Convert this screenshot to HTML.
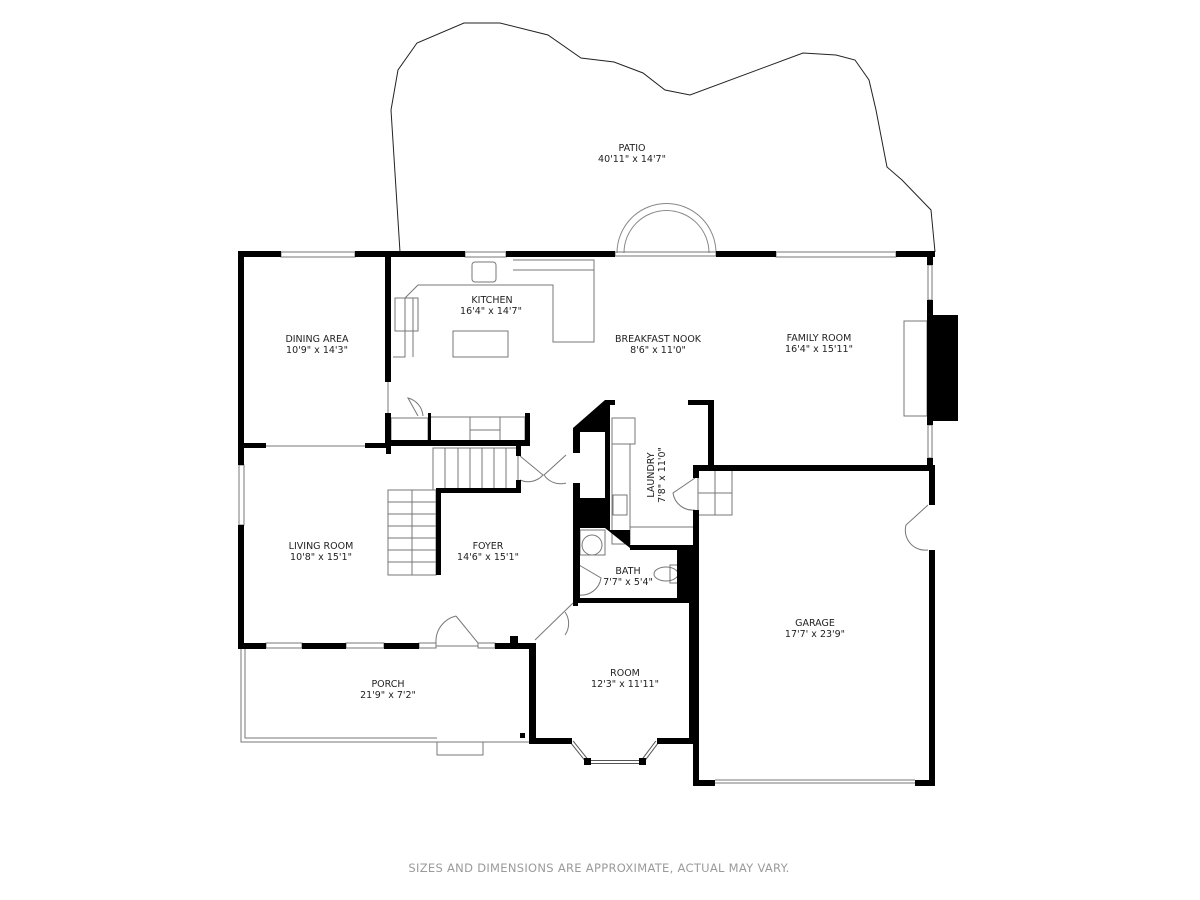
<!DOCTYPE html>
<html><head><meta charset="utf-8"><style>
html,body{margin:0;padding:0;background:#fff;}
svg{display:block;}
text{font-family:"DejaVu Sans","Liberation Sans",sans-serif;font-size:9.5px;fill:#222;text-anchor:middle;}
</style></head><body>
<svg width="1200" height="900" viewBox="0 0 1200 900" xmlns="http://www.w3.org/2000/svg">
<rect width="1200" height="900" fill="#fff"/>
<path d="M400,252 L391,110 L398,70 L417,43 L464,23 L500,23 L548,35 L581,58 L614,62 L643,73 L665,90 L690,95 L803,53 L836,55 L855,60 L869,80 L876,110 L887,167 L902,180 L931,210 L935,252" fill="none" stroke="#222" stroke-width="1"/>
<path d="M617,253 A49,49 0 0 1 716,253" fill="none" stroke="#888" stroke-width="1"/>
<path d="M624,253 A42,42 0 0 1 709,253" fill="none" stroke="#888" stroke-width="1"/>
<g fill="none" stroke="#777" stroke-width="1">
<rect x="281" y="252" width="74" height="5"/><rect x="465" y="252" width="41" height="5"/><rect x="776" y="252" width="120" height="5"/>
<rect x="615" y="252" width="101" height="4"/>
<rect x="239" y="465" width="5" height="60"/>
<rect x="928" y="265" width="4" height="35"/><rect x="928" y="425" width="4" height="33"/>
<rect x="266" y="643" width="36" height="5"/><rect x="346" y="643" width="38" height="5"/><rect x="419" y="643" width="17" height="5"/><rect x="478" y="643" width="17" height="5"/>
<line x1="436" y1="646" x2="478" y2="646"/>
<line x1="266" y1="446" x2="365" y2="446"/>
<line x1="388" y1="382" x2="388" y2="415"/>
<line x1="715" y1="783" x2="915" y2="783"/><line x1="715" y1="780" x2="915" y2="780"/>
<path d="M241,649 V742 H530"/><path d="M245,649 V738 H437"/>
<rect x="437" y="742" width="46" height="13"/>
<rect x="904" y="321" width="23" height="95" fill="#fff"/>
<path d="M393,357 H405 V298 L418,285 H553 V342 H594 V260 H513"/>
<path d="M413,357 V298"/>
<rect x="453" y="331" width="55" height="26"/>
<rect x="472" y="262" width="24" height="20" rx="3"/>
<rect x="395" y="298" width="23" height="33"/>
<line x1="513" y1="270" x2="594" y2="270"/>
<rect x="430" y="417" width="95" height="24"/>
<line x1="470" y1="417" x2="470" y2="441"/><line x1="500" y1="417" x2="500" y2="441"/><line x1="470" y1="430" x2="500" y2="430"/>
<rect x="391" y="418" width="37" height="23"/>
<rect x="433" y="448" width="85" height="42"/>
<line x1="445" y1="448" x2="445" y2="490"/><line x1="458" y1="448" x2="458" y2="490"/><line x1="470" y1="448" x2="470" y2="490"/><line x1="482" y1="448" x2="482" y2="490"/><line x1="494" y1="448" x2="494" y2="490"/><line x1="506" y1="448" x2="506" y2="490"/>
<rect x="388" y="490" width="48" height="85"/>
<line x1="412" y1="490" x2="412" y2="575"/>
<line x1="388" y1="502" x2="436" y2="502"/><line x1="388" y1="514" x2="436" y2="514"/><line x1="388" y1="526" x2="436" y2="526"/><line x1="388" y1="538" x2="436" y2="538"/><line x1="388" y1="550" x2="436" y2="550"/><line x1="388" y1="562" x2="436" y2="562"/>
<rect x="612" y="418" width="23" height="26"/>
<rect x="612" y="444" width="18" height="100"/>
<rect x="613" y="495" width="14" height="20"/>
<rect x="698" y="470" width="34" height="45"/><line x1="715" y1="470" x2="715" y2="515"/><line x1="698" y1="493" x2="732" y2="493"/>
<line x1="630" y1="527" x2="693" y2="527"/>
<rect x="580" y="530" width="25" height="25"/><circle cx="592" cy="545" r="10"/>
<ellipse cx="666" cy="574" rx="12" ry="7"/><rect x="670" y="565" width="8" height="18"/>
<path d="M418,416 L408,398 A20,20 0 0 1 423,416"/>
<path d="M520,456 L543,475 A20,20 0 0 1 520,480"/>
<path d="M566,455 L544,475 A20,20 0 0 0 566,483"/>
<path d="M695,478 L673,493 A20,20 0 0 0 695,510"/>
<path d="M928,505 L906,525 A20,20 0 0 0 928,550"/>
<path d="M579,565 L601,578 A20,20 0 0 1 579,595"/>
<path d="M456,616 L478,643 M456,616 A26,26 0 0 0 436,643"/>
<path d="M535,640 L573,603 M565,612 A20,20 0 0 1 565,635"/>
<path d="M572,742 L588,762 H642 L657,742" stroke="#555" stroke-width="4"/>
<path d="M572,742 L588,762 H642 L657,742" stroke="#fff" stroke-width="2"/>
</g>
<g fill="#000">
<rect x="238" y="251" width="43" height="6"/><rect x="355" y="251" width="110" height="6"/><rect x="506" y="251" width="109" height="6"/><rect x="716" y="251" width="60" height="6"/><rect x="896" y="251" width="39" height="6"/>
<rect x="238" y="251" width="6" height="214"/><rect x="238" y="525" width="6" height="124"/>
<rect x="927" y="251" width="6" height="14"/><rect x="927" y="300" width="6" height="125"/><rect x="927" y="458" width="6" height="12"/>
<rect x="927" y="315" width="31" height="106"/>
<rect x="385" y="257" width="6" height="125"/>
<rect x="241" y="443" width="25" height="5"/><rect x="365" y="443" width="26" height="5"/>
<rect x="385" y="413" width="6" height="35"/>
<rect x="385" y="440" width="145" height="6"/>
<rect x="525" y="413" width="5" height="33"/>
<rect x="428" y="413" width="3" height="30"/>
<rect x="386" y="446" width="5" height="8"/>
<rect x="436" y="490" width="5" height="85"/><rect x="436" y="488" width="85" height="5"/>
<rect x="516" y="446" width="5" height="10"/><rect x="516" y="480" width="5" height="12"/>
<path d="M573,428 L605,400 H615 V405 H610 V428 Z"/>
<rect x="580" y="428" width="30" height="4"/><rect x="605" y="428" width="5" height="100"/>
<rect x="573" y="428" width="7" height="25"/><rect x="573" y="483" width="7" height="117"/>
<rect x="580" y="498" width="30" height="30"/>
<path d="M605,528 L630,548 V530 H610 V528 Z"/>
<rect x="688" y="400" width="20" height="5"/><rect x="708" y="400" width="6" height="70"/>
<rect x="630" y="545" width="65" height="5"/>
<rect x="677" y="548" width="18" height="55"/>
<rect x="573" y="598" width="122" height="5"/>
<rect x="693" y="465" width="242" height="6"/>
<rect x="693" y="467" width="6" height="11"/><rect x="693" y="510" width="6" height="276"/>
<rect x="929" y="467" width="6" height="38"/><rect x="929" y="550" width="6" height="236"/>
<rect x="693" y="780" width="22" height="6"/><rect x="915" y="780" width="20" height="6"/>
<rect x="238" y="643" width="28" height="6"/><rect x="302" y="643" width="44" height="6"/><rect x="384" y="643" width="35" height="6"/><rect x="495" y="643" width="40" height="6"/>
<rect x="510" y="636" width="8" height="8"/>
<rect x="529" y="643" width="7" height="101"/>
<rect x="529" y="738" width="43" height="6"/><rect x="657" y="738" width="38" height="6"/>
<rect x="689" y="603" width="6" height="140"/>
<rect x="520" y="733" width="5" height="5"/>
<rect x="573" y="598" width="5" height="8"/>
<rect x="584" y="758" width="7" height="7"/><rect x="639" y="758" width="7" height="7"/>
</g>
<text x="632" y="151">PATIO</text><text x="632" y="162">40'11" x 14'7"</text>
<text x="492" y="303">KITCHEN</text><text x="491" y="314">16'4" x 14'7"</text>
<text x="317" y="342">DINING AREA</text><text x="317" y="353">10'9" x 14'3"</text>
<text x="658" y="342">BREAKFAST NOOK</text><text x="658" y="353">8'6" x 11'0"</text>
<text x="819" y="341">FAMILY ROOM</text><text x="819" y="352">16'4" x 15'11"</text>
<text x="321" y="549">LIVING ROOM</text><text x="321" y="560">10'8" x 15'1"</text>
<text x="488" y="549">FOYER</text><text x="488" y="560">14'6" x 15'1"</text>
<text transform="translate(654,475) rotate(-90)">LAUNDRY</text>
<text transform="translate(665,475) rotate(-90)">7'8" x 11'0"</text>
<text x="628" y="574">BATH</text><text x="628" y="585">7'7" x 5'4"</text>
<text x="815" y="626">GARAGE</text><text x="815" y="637">17'7' x 23'9"</text>
<text x="625" y="676">ROOM</text><text x="625" y="687">12'3" x 11'11"</text>
<text x="388" y="687">PORCH</text><text x="388" y="698">21'9" x 7'2"</text>
<text x="599" y="872" style="font-size:11.5px;fill:#9a9a9a;letter-spacing:0.3px">SIZES AND DIMENSIONS ARE APPROXIMATE, ACTUAL MAY VARY.</text>
</svg>
</body></html>
